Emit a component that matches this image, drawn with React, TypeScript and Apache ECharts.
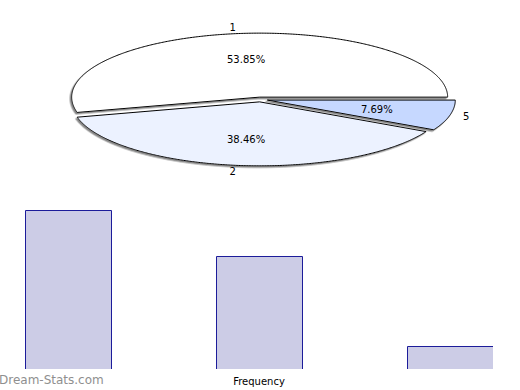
import React, { useEffect, useRef } from "react";
import * as echarts from "echarts";

const categories = ["1", "2", "5"];
const frequencies = [7, 5, 1];
const sliceColors = ["#ffffff", "#ecf2ff", "#c6d8ff"];
const xAxisTitle = "Frequency";
const watermark = "Dream-Stats.com";

export default function App() {
  const ref = useRef<HTMLDivElement>(null);
  useEffect(() => {
    if (!ref.current) return;
    const chart = echarts.init(ref.current, undefined, { renderer: "svg" });
    const total = frequencies.reduce((a, b) => a + b, 0);
    const CX = 260.5;
    const CY = 99.5;
    const RX = 188;
    const RY = 64;
    const KY = RY / RX;
    const EXPLODE = 7;
    const BAR_W = 86;
    const font = "DejaVu Sans";

    const renderPie = (params: any, api: any) => {
      const i = params.dataIndex;
      let before = 0;
      for (let k = 0; k < i; k++) before += frequencies[k];
      const v = api.value(0);
      const a0 = (before / total) * Math.PI * 2;
      const a1 = ((before + v) / total) * Math.PI * 2;
      const mid = (a0 + a1) / 2;
      const ox = EXPLODE * Math.cos(mid);
      const oy = -EXPLODE * Math.sin(mid) * KY;
      const cx = CX + ox;
      const cy = CY + oy;
      const pts: number[][] = [[cx, cy]];
      const steps = Math.max(8, Math.ceil(((a1 - a0) * 180) / Math.PI) * 2);
      for (let s = 0; s <= steps; s++) {
        const t = a0 + ((a1 - a0) * s) / steps;
        pts.push([cx + RX * Math.cos(t), cy - RY * Math.sin(t)]);
      }
      const px = (k: number) => cx + k * RX * Math.cos(mid);
      const py = (k: number) => cy - k * RY * Math.sin(mid);
      return {
        type: "group",
        children: [
          {
            type: "polygon",
            shape: { points: pts },
            style: {
              fill: sliceColors[i],
              stroke: "#000",
              lineWidth: 1,
              lineJoin: "miter",
              shadowColor: "rgba(120,120,120,0.9)",
              shadowBlur: 0.5,
              shadowOffsetX: -1.5,
              shadowOffsetY: 1.5,
            },
          },
          {
            type: "text",
            x: px(0.6),
            y: py(0.6),
            style: {
              text: ((v / total) * 100).toFixed(2) + "%",
              fontFamily: font,
              fontSize: 10,
              fill: "#000",
              align: "center",
              verticalAlign: "middle",
            },
          },
          {
            type: "text",
            x: px(1.1) - 2,
            y: py(1.1),
            style: {
              text: categories[i],
              fontFamily: font,
              fontSize: 10,
              fill: "#000",
              align: "center",
              verticalAlign: "middle",
            },
          },
        ],
      };
    };

    const renderBar = (params: any, api: any) => {
      const x = api.value(0);
      const v = api.value(1);
      const top = api.coord([x, v]);
      const base = api.coord([x, 0]);
      const l = Math.round(top[0] - BAR_W / 2) + 0.5;
      const r = l + BAR_W;
      const t = Math.round(top[1]) + 0.5;
      const b = base[1] + 2;
      return {
        type: "group",
        children: [
          {
            type: "rect",
            shape: { x: l, y: t, width: BAR_W, height: b - t },
            style: { fill: "#ccccE6", stroke: null },
          },
          {
            type: "polyline",
            shape: { points: [[l, b], [l, t], [r, t], [r, b]] },
            style: { stroke: "#1c1c9a", lineWidth: 1, fill: null },
          },
        ],
      };
    };

    chart.setOption({
      animation: false,
      backgroundColor: "#ffffff",
      grid: { left: 0, right: 27.5, top: 199, bottom: 21, containLabel: false },
      xAxis: { type: "value", min: 0.644, max: 3.2225, show: false, splitLine: { show: false } },
      yAxis: { type: "value", min: 0, max: 7.5, show: false, splitLine: { show: false } },
      series: [
        {
          type: "custom",
          coordinateSystem: "none",
          renderItem: renderPie,
          data: frequencies.map((f) => [f]),
          silent: true,
        },
        {
          type: "custom",
          coordinateSystem: "cartesian2d",
          clip: true,
          renderItem: renderBar,
          data: frequencies.map((f, i) => [i + 1, f]),
          silent: true,
        },
      ],
      graphic: [
        {
          type: "text",
          x: 259,
          y: 381,
          style: {
            text: xAxisTitle,
            fontFamily: font,
            fontSize: 10,
            fill: "#000",
            align: "center",
            verticalAlign: "middle",
          },
        },
        {
          type: "text",
          x: -1,
          y: 380,
          style: {
            text: watermark,
            fontFamily: font,
            fontSize: 12,
            fill: "#8f8f8f",
            align: "left",
            verticalAlign: "middle",
          },
        },
      ],
    });
    return () => chart.dispose();
  }, []);
  return (
    <div
      ref={ref}
      style={{ position: "fixed", left: 0, top: 0, width: 520, height: 390 }}
    />
  );
}
